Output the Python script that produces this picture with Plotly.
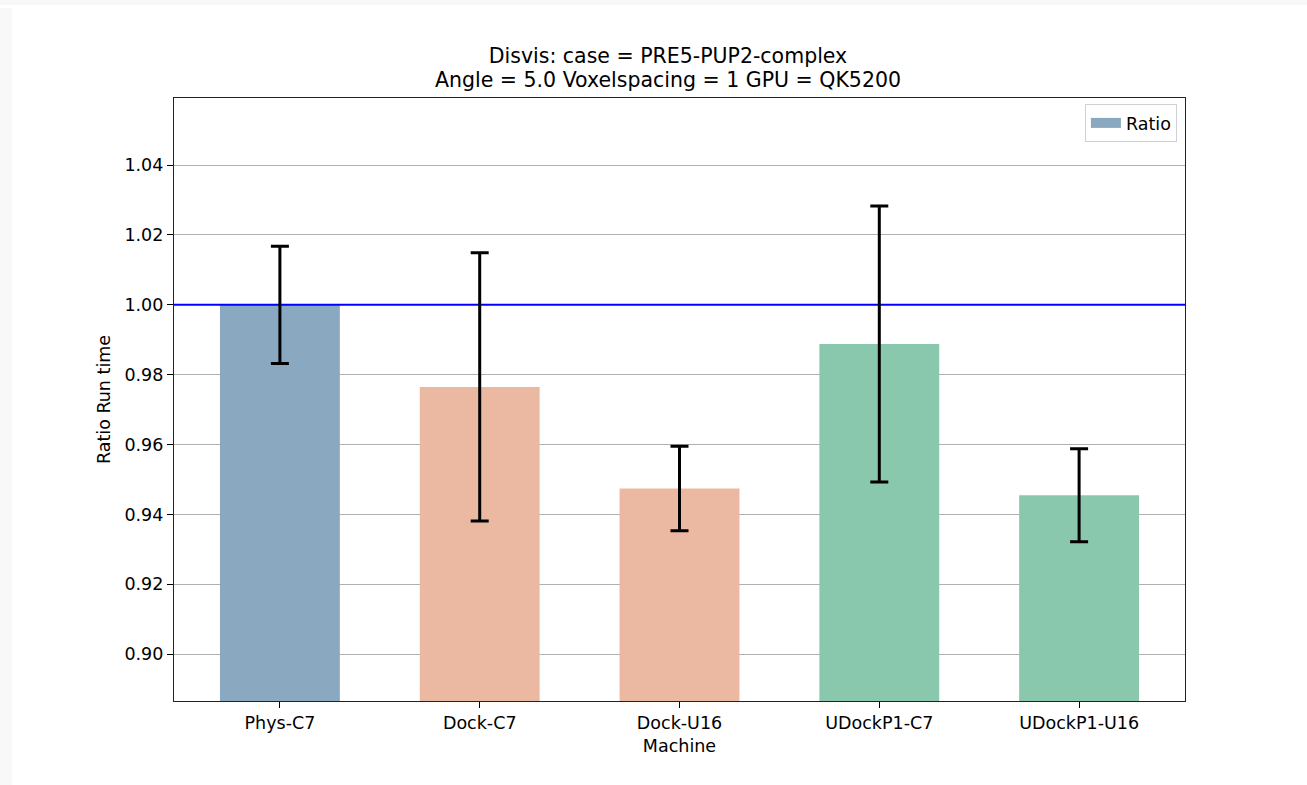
import plotly.graph_objects as go

# ---- data ----
machines = ["Phys-C7", "Dock-C7", "Dock-U16", "UDockP1-C7", "UDockP1-U16"]
ratio = [1.000, 0.9765, 0.9474, 0.9888, 0.9455]
ratio_err = [0.0168, 0.0384, 0.0121, 0.0395, 0.0133]
bar_colors = ["#8aa9c0", "#ebb9a1", "#8ac8ae"]
machine_group = [0, 1, 1, 2, 2]
reference_level = 1.0
yticks = [0.90, 0.92, 0.94, 0.96, 0.98, 1.00, 1.02, 1.04]
title_line1 = "Disvis: case = PRE5-PUP2-complex"
title_line2 = "Angle = 5.0 Voxelspacing = 1 GPU = QK5200"

xpos = list(range(len(machines)))
colors = [bar_colors[g] for g in machine_group]

FONT = "DejaVu Sans"
FS = 17.5
TFS = 20.5

fig = go.Figure()

fig.add_trace(go.Bar(
    x=xpos, y=ratio, width=0.6,
    marker=dict(color=colors, line=dict(width=0)),
    showlegend=False, hoverinfo="skip",
))

# reference line at 1.0
fig.add_trace(go.Scatter(
    x=[-1, len(machines)], y=[reference_level, reference_level],
    mode="lines", line=dict(color="#0000ff", width=2),
    showlegend=False, hoverinfo="skip",
))

# error bars
fig.add_trace(go.Scatter(
    x=xpos, y=ratio, mode="markers",
    marker=dict(size=0.1, color="rgba(0,0,0,0)"),
    error_y=dict(type="data", array=ratio_err, visible=True,
                 color="black", thickness=3, width=9),
    showlegend=False, hoverinfo="skip",
))

# legend entry
fig.add_trace(go.Scatter(
    x=[None], y=[None], mode="lines", name="Ratio",
    line=dict(color=bar_colors[0], width=11),
))

L, R, T, B = 174, 1307 - 1185, 98, 785 - 701
pw, ph = 1307 - L - R, 785 - T - B

# light gray page strips (top/left)
fig.add_shape(type="rect", xref="paper", yref="paper",
              x0=-L / pw, x1=(12 - L) / pw, y0=-B / ph, y1=(785 - T) / ph + 0.01,
              fillcolor="#f8f8f8", line=dict(width=0), layer="below")
fig.add_shape(type="rect", xref="paper", yref="paper",
              x0=-L / pw, x1=1.2, y0=(785 - 5 - B) / ph, y1=(785 - B) / ph + 0.01,
              fillcolor="#f8f8f8", line=dict(width=0), layer="below")

title_cx = (668 - L) / pw

fig.add_annotation(
    text=title_line2, xref="paper", yref="paper",
    x=title_cx, xanchor="center",
    y=(785 - B - 80) / ph, yanchor="middle",
    showarrow=False, font=dict(family=FONT, size=TFS, color="black"),
)

fig.update_layout(
    width=1307, height=785,
    margin=dict(l=L, r=R, t=T, b=B),
    paper_bgcolor="white", plot_bgcolor="white",
    font=dict(family=FONT, size=FS, color="black"),
    title=dict(
        text=title_line1,
        x=668 / 1307, xanchor="center",
        y=1 - 56 / 785, yanchor="middle", yref="container",
        font=dict(family=FONT, size=TFS, color="black"),
    ),
    legend=dict(
        x=0.992, y=0.99, xanchor="right", yanchor="top",
        bgcolor="white", bordercolor="#d0d0d0", borderwidth=1,
        font=dict(family=FONT, size=FS, color="black"),
        itemwidth=30,
    ),
    xaxis=dict(
        range=[-0.53, 4.53],
        tickmode="array", tickvals=xpos, ticktext=machines,
        ticks="outside", ticklen=6, tickcolor="black", tickwidth=1.2,
        showgrid=False, zeroline=False,
        showline=True, linecolor="#222", linewidth=1.3, mirror=True,
        title=dict(text="Machine", standoff=7, font=dict(size=FS)),
        tickfont=dict(size=FS),
    ),
    yaxis=dict(
        range=[0.8866, 1.0592],
        tickmode="array", tickvals=yticks,
        ticktext=[f"{v:.2f}" for v in yticks],
        ticks="outside", ticklen=6, tickcolor="black", tickwidth=1.2,
        showgrid=True, gridcolor="#b0b0b0", gridwidth=1,
        zeroline=False,
        showline=True, linecolor="#222", linewidth=1.3, mirror=True,
        title=dict(text="Ratio Run time", standoff=9, font=dict(size=FS)),
        tickfont=dict(size=FS),
    ),
)

fig.write_html("out.html")
